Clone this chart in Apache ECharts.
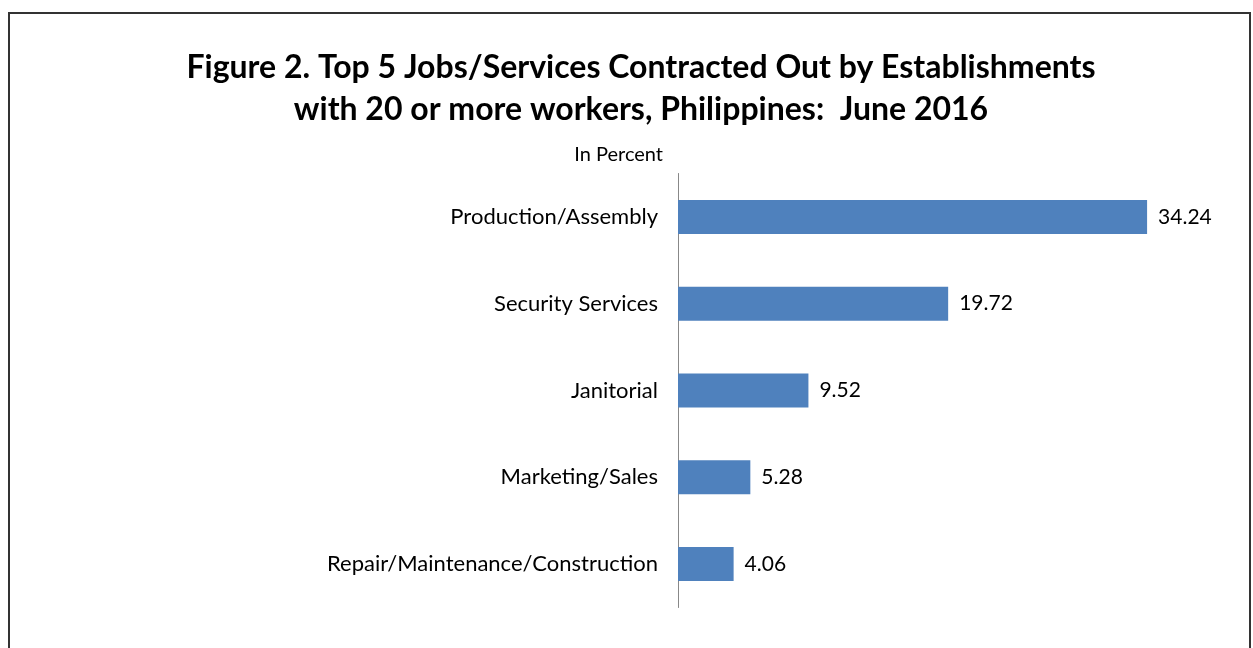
<!DOCTYPE html>
<html>
<head>
<meta charset="utf-8">
<script src="https://cdn.jsdelivr.net/npm/echarts@6/dist/echarts.min.js"></script>
<style>
html,body{margin:0;padding:0;background:#fff;}
#chart{width:1253px;height:648px;}
</style>
</head>
<body>
<div id="chart"></div>
<script>
const categories = ["Production/Assembly", "Security Services", "Janitorial", "Marketing/Sales", "Repair/Maintenance/Construction"];
const values = [34.24, 19.72, 9.52, 5.28, 4.06];
const titleLines = ["Figure 2. Top 5 Jobs/Services Contracted Out by Establishments", "with 20 or more workers, Philippines:  June 2016"];
const unitLabel = "In Percent";

const chart = echarts.init(document.getElementById('chart'));
const FONT = 'Lato, "Open Sans", sans-serif';
chart.setOption({
  backgroundColor: '#fff',
  animation: false,
  title: [
    {
      text: titleLines.join('\n'),
      left: 636, top: 42, textAlign: 'center',
      textStyle: {fontFamily: FONT, fontSize: 32, fontWeight: 'bold', color: '#000', lineHeight: 42}
    },
    {
      text: unitLabel,
      left: 658, top: 140, textAlign: 'right',
      textStyle: {fontFamily: FONT, fontSize: 20, fontWeight: 'normal', color: '#000'}
    }
  ],
  graphic: [
    {type: 'polyline', shape: {points: [[9, 648], [9, 13], [1250, 13], [1250, 648]]}, style: {stroke: '#333', lineWidth: 2, fill: null}}
  ],
  grid: {left: 678, top: 173.5, width: 548, height: 434, containLabel: false},
  xAxis: {
    type: 'value', min: 0, max: 40, show: false
  },
  yAxis: {
    type: 'category', data: categories, inverse: true,
    axisLine: {show: true, lineStyle: {color: '#888', width: 1}},
    axisTick: {show: false},
    axisLabel: {fontFamily: FONT, fontSize: 22, color: '#000', margin: 20}
  },
  series: [{
    type: 'bar', data: values, barWidth: 34,
    itemStyle: {color: '#4f81bd'},
    label: {show: true, position: 'right', distance: 11, fontFamily: FONT, fontSize: 21, color: '#000',
      formatter: p => p.value.toFixed(2)}
  }]
});
</script>
</body>
</html>
